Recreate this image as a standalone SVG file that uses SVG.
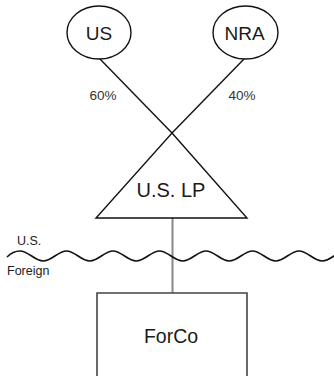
<svg xmlns="http://www.w3.org/2000/svg" width="334" height="376" viewBox="0 0 334 376">
<style>
.shape{fill:#fff;stroke:#111;stroke-width:1.4}
.lbl{font-family:"Liberation Sans",Arial,sans-serif;fill:#1a1a1a;text-anchor:middle}
.big{font-size:19px}
.pct{font-size:13.5px;fill:#333}
.side{font-family:"Liberation Sans",Arial,sans-serif;font-size:12.5px;fill:#222}
.conn{stroke:#111;stroke-width:1.4;fill:none}
</style>
<rect width="334" height="376" fill="#fff"/>
<g id="connectors">
<line class="conn" x1="100" y1="59" x2="172" y2="133"/>
<line class="conn" x1="244" y1="59" x2="172" y2="133"/>
<line x1="172.5" y1="218" x2="172.5" y2="293" stroke="#888" stroke-width="2"/>
</g>
<g id="border">
<path d="M7,257 Q13,251 20,251 C28.5,251 34.75,261 43.25,261 S58,251 66.5,251 S81.25,261 89.75,261 S104.5,251 113,251 S127.75,261 136.25,261 S151,251 159.5,251 S174.25,261 182.75,261 S197.5,251 206,251 S220.75,261 229.25,261 S244,251 252.5,251 S267.25,261 275.75,261 S290.5,251 299,251 S313.75,261 322.25,261 S337,251 345.5,251" fill="none" stroke="#111" stroke-width="1.6"/>
<text class="side" x="17" y="245">U.S.</text>
<text class="side" x="7" y="275">Foreign</text>
</g>
<g id="us">
<ellipse class="shape" cx="99" cy="32.5" rx="32" ry="26.5"/>
<text class="lbl big" x="99" y="39.5">US</text>
</g>
<g id="nra">
<ellipse class="shape" cx="245.5" cy="32.5" rx="32.5" ry="26.5"/>
<text class="lbl big" x="244.5" y="39.5">NRA</text>
</g>
<g id="labels">
<text class="lbl pct" x="103" y="100">60%</text>
<text class="lbl pct" x="242" y="100">40%</text>
</g>
<g id="uslp">
<polygon class="shape" points="172,133 247,218 96,218"/>
<text class="lbl" style="font-size:20px" x="171" y="197">U.S. LP</text>
</g>
<g id="forco">
<polyline points="97,380 97,293 247,293 247,380" fill="#fff" stroke="#444" stroke-width="1.6"/>
<text class="lbl" style="font-size:19.5px" x="171" y="343">ForCo</text>
</g>
</svg>
